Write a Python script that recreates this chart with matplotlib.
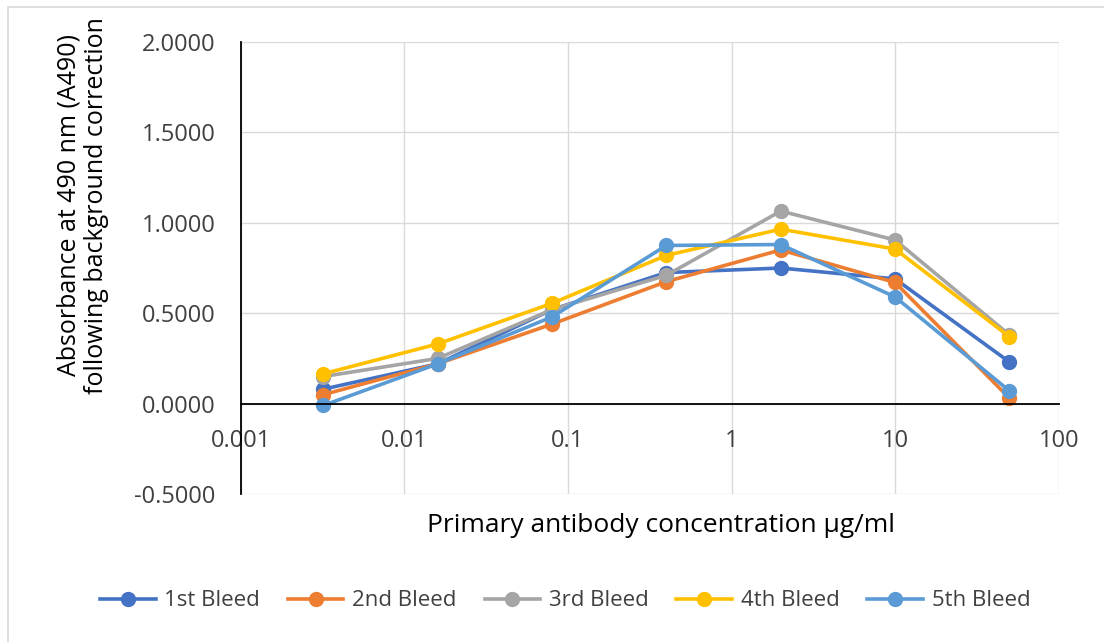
import numpy as np
import matplotlib.pyplot as plt
from matplotlib.patches import Rectangle

plt.rcParams['font.family'] = ['Open Sans', 'DejaVu Sans']

# primary antibody concentration (ug/ml), 5-fold dilutions
conc = [0.0032, 0.016, 0.08, 0.4, 2, 10, 50]

bleed1 = [0.080, 0.220, 0.520, 0.725, 0.750, 0.690, 0.230]
bleed2 = [0.050, 0.220, 0.440, 0.675, 0.850, 0.670, 0.030]
bleed3 = [0.150, 0.250, 0.520, 0.710, 1.065, 0.905, 0.380]
bleed4 = [0.165, 0.330, 0.555, 0.820, 0.965, 0.855, 0.370]
bleed5 = [-0.010, 0.220, 0.480, 0.875, 0.880, 0.590, 0.070]

names = ['1st Bleed', '2nd Bleed', '3rd Bleed', '4th Bleed', '5th Bleed']
colors = ['#4472C4', '#ED7D31', '#A5A5A5', '#FFC000', '#5B9BD5']
series = [bleed1, bleed2, bleed3, bleed4, bleed5]

xticks = [0.001, 0.01, 0.1, 1, 10, 100]
xtick_labels = ['0.001', '0.01', '0.1', '1', '10', '100']
yticks = [-0.5, 0.0, 0.5, 1.0, 1.5, 2.0]

fig = plt.figure(figsize=(11.04, 6.42), dpi=100)
ax = fig.add_axes([0.218, 0.2305, 0.741, 0.704])

for vals, name, c in zip(series, names, colors):
    ax.plot(conc, vals, color=c, lw=2.6, marker='o', ms=10, label=name)

ax.set_xscale('log')
ax.set_xlim(0.001, 100)
ax.set_ylim(-0.5, 2.0)
ax.set_xticks(xticks)
ax.set_xticklabels(xtick_labels)
ax.minorticks_off()
ax.set_yticks(yticks)
ax.set_yticklabels(['%.4f' % v for v in yticks])
ax.tick_params(length=0, labelsize=17, colors='#404040')
ax.tick_params(axis='y', pad=18)
ax.tick_params(axis='x', pad=18)

ax.grid(True, color='#d9d9d9', lw=1)
ax.set_axisbelow(True)
for s in ['top', 'right']:
    ax.spines[s].set_visible(False)
ax.spines['bottom'].set_position(('data', 0))
ax.spines['bottom'].set_color('black')
ax.spines['bottom'].set_linewidth(1.3)
ax.spines['left'].set_color('black')
ax.spines['left'].set_linewidth(1.3)

fig.text(0.075, 0.68, 'Absorbance at 490 nm (A490)\nfollowing background correction',
         rotation=90, ha='center', va='center', fontsize=18, linespacing=1.15,
         color='#000000')
fig.text(0.599, 0.182, 'Primary antibody concentration \u03bcg/ml',
         ha='center', va='center', fontsize=19)

fig.legend(loc='center', bbox_to_anchor=(0.512, 0.064), ncol=5, frameon=False,
           fontsize=16, handlelength=2.5, columnspacing=1.25, handletextpad=0.4,
           labelcolor='#404040')

fig.patches.append(Rectangle((8 / 1104, -0.02), 1.1, 1 - 7 / 642 + 0.02,
                             transform=fig.transFigure, fill=False,
                             edgecolor='#d9d9d9', lw=1.2))

fig.savefig('out.png', dpi=100)
